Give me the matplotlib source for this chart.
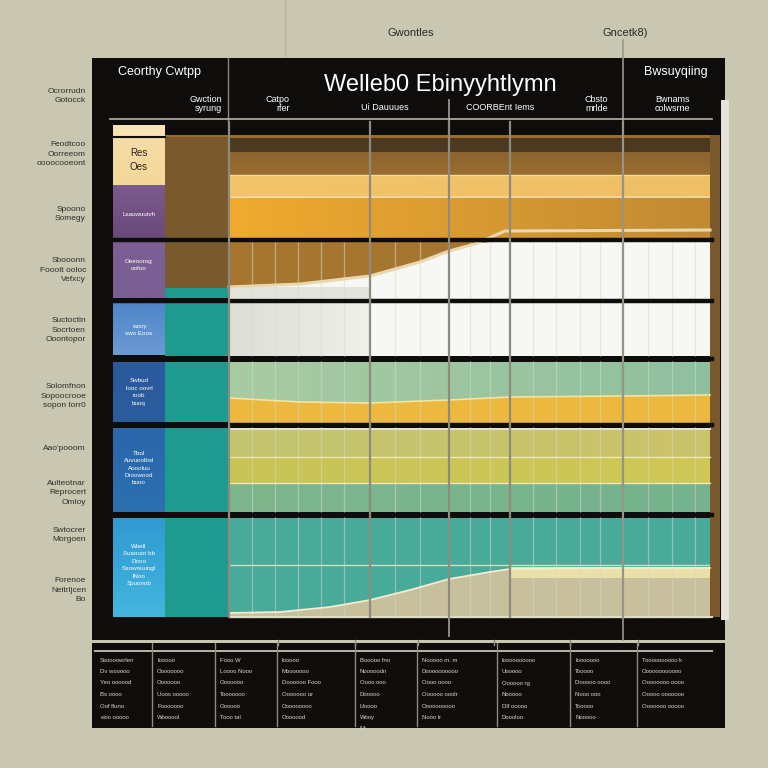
import matplotlib
matplotlib.use("Agg")
import matplotlib.pyplot as plt
from matplotlib.patches import Rectangle
import numpy as np

plt.rcParams['font.family'] = ['Liberation Sans', 'DejaVu Sans']

# ---- data ----
top_notes = ["Gwontles", "Gncetk8)"]
title = "Welleb0 Ebinyyhtlymn"
header_left = "Ceorthy Cwtpp"
header_right = "Bwsuyqiing"
sub_headers = ["Gwction\nsyrung", "Catpo\nrfer", "Ui Dauuues", "COORBEnt Iems",
               "Cbsto\nmrlde", "Bwnams\ncolwsrne"]

row_labels = ["Ocrorrudn\nGotocck", "Feodtcoo\nOorreeom\noooocooeont", "Spoono\nSomegy",
              "Sbooonn\nFooolt ooloc\nVefxcy", "Suctoctin\nSocrtoen\nOoontopor",
              "Solomfnon\nSopoocrooe\nsopon lorr0", "Aao'pooom",
              "Aulteotnar\nReprocert\nOmloy", "Swtocrer\nMorgoen",
              "Forenoe\nNeitrljcen\nBo"]
row_label_y = [96, 154, 214, 270, 330, 396, 448, 493, 535, 590]

cell_texts = ["Res\nOes", "Lsauwuutvh", "Oeeoorog\noofoo", "wooy\nswo Eoos",
              "Swbud\nlooc oovrl\nroob\nbuoq", "Tbol\nAuvuoolbsl\nAoooluu\nDroowood\nbuoo",
              "Wuell\nSuaouor bb\nDooo\nSeowouungl\nlNoo\nSpuonob"]

# curve in second band (white below)
curve1_x = [229, 300, 370, 420, 449, 475, 507, 560, 710]
curve1_y = [287, 284, 276, 262, 251, 244, 240, 240, 240]
# curve in last band (tan below)
curve2_x = [229, 280, 330, 370, 410, 449, 490, 510, 600, 710]
curve2_y = [613, 612, 607, 600, 590, 579, 572, 569, 568, 568]
# top edge of yellow band in fourth row
yellow_x = [229, 300, 370, 449, 510, 620, 710]
yellow_y = [398, 402, 403, 400, 397, 396, 395]

grid_x = [229, 370, 449, 510, 623]
fine_x = [252, 275, 298, 321, 344, 395, 420, 470, 490, 533, 556, 580, 600, 648, 672, 695]

table_cols = [95, 152, 215, 277, 355, 417, 497, 570, 637, 712]
table_text = [
    ["Ssoooowrlen", "Dv wooooo", "Yeo oooood", "Bs oooo", "Oof fluno", "woo ooooo"],
    ["Iooooo", "Oooooooo", "Ooooooo", "Uoos ooooo", "Fooooooo", "Woooool"],
    ["Fooo W", "Loooo Nooo", "Ooooooo", "Tooooooo", "Oooooo", "Tooo tal"],
    ["Iooooo", "Mooooooo", "Doooooo Fooo", "Ooooooo ur", "Ooooooooo", "Ooooood"],
    ["Booooo fno", "Nooooodn", "Oooo ooo", "Dooooo", "Lfoooo", "Wooy", "Mr"],
    ["Nooooo m. m", "Doooooooooo", "Oooo oooo", "Oooooo ooolr", "Oooooooooo", "Nooo lr"],
    ["Ioooooooooo", "Uooooo", "Oooooo rg", "Nooooo", "Dlf ooooo", "Doooloo"],
    ["Iooooooo", "Tooooo", "Dooooo oooo", "Nooo ooo", "Tooooo", "Nooooo"],
    ["Toooooooooo k", "Oooooooooooo", "Oooooooo oooo", "Ooooo ooooooo", "Ooooooo ooooo"],
]

# ---- drawing ----
BG = "#c9c6b1"
BLACK = "#0e0d0b"
fig = plt.figure(figsize=(7.68, 7.68), dpi=100, facecolor=BG)
ax = fig.add_axes([0, 0, 1, 1])
ax.set_xlim(0, 768)
ax.set_ylim(768, 0)
ax.axis("off")


def box(x0, y0, x1, y1, c, z=1, **kw):
    ax.add_patch(Rectangle((x0, y0), x1 - x0, y1 - y0, facecolor=c, edgecolor="none", zorder=z, **kw))


def grad(x0, y0, x1, y1, c0, c1, z=1.5, horiz=True):
    c0 = np.array(matplotlib.colors.to_rgb(c0))
    c1 = np.array(matplotlib.colors.to_rgb(c1))
    t = np.linspace(0, 1, 64)
    img = c0 + (c1 - c0) * t[:, None]
    img = img[None, :, :] if horiz else img[:, None, :]
    ax.imshow(img, extent=(x0, x1, y1, y0), aspect="auto", zorder=z, interpolation="bilinear")


# faint lines above the panel
ax.plot([285, 285], [0, 58], color="#b9b6a2", lw=1, zorder=1)
ax.plot([623, 623], [40, 640], color="#9a988a", lw=1.2, zorder=6)

# black panel + bottom table
box(92, 58, 725, 640, BLACK)
box(92, 643, 725, 728, BLACK)
box(721, 100, 729, 620, "#e4e2da", z=1.2)

# header
ax.text(160, 72, header_left, color="white", fontsize=9, ha="center", va="center", zorder=8)
ax.text(676, 72, header_right, color="white", fontsize=9, ha="center", va="center", zorder=8)
ax.text(440, 85, title, color="white", fontsize=17, ha="center", va="center", zorder=8)
sub_x = [222, 290, 385, 500, 608, 690]
sub_y = [104, 104, 108, 108, 104, 104]
sub_ha = ["right", "right", "center", "center", "right", "right"]
for s, x, y, h in zip(sub_headers, sub_x, sub_y, sub_ha):
    ax.text(x, y, s, color="white", fontsize=6.5, ha=h, va="center", zorder=8, linespacing=1.1)
ax.plot([228, 228], [58, 122], color="#8a877a", lw=1, zorder=7)
ax.plot([110, 712], [119, 119], color="#b5b2a5", lw=1.2, zorder=7)

# notes above
ax.text(411, 33, top_notes[0], color="#2a2a26", fontsize=8, ha="center", va="center")
ax.text(625, 33, top_notes[1], color="#2a2a26", fontsize=8, ha="center", va="center")

# left row labels
for s, y in zip(row_labels, row_label_y):
    ax.text(86, y, s, color="#2e2e2a", fontsize=6, ha="right", va="center", linespacing=1.5)

# ---- band A (stripes) ----
box(165, 135, 710, 238, "#9a6c2c")
box(165, 137, 229, 238, "#7a5a2c", z=1.6)
grad(229, 138, 710, 152, "#4a3820", "#4e3a22", horiz=False)
grad(229, 152, 710, 174, "#8c6430", "#9a6c30", horiz=False)
grad(229, 175, 710, 196, "#f3c469", "#eebf64")
grad(229, 197, 710, 238, "#f0aa2e", "#c18a34")
ax.plot([229, 710], [174.5, 174.5], color="#f6dba0", lw=1, zorder=2)
ax.plot([229, 710], [196.5, 196.5], color="#fae6b8", lw=1.2, zorder=2)

# ---- band B (curve) ----
box(165, 242, 710, 298, "#a67630")
box(165, 242, 229, 288, "#7a5a2c", z=1.6)
box(165, 288, 229, 298, "#1f9a8e", z=1.6)
ax.fill_between(curve1_x, curve1_y, 298, color="#f7f7f3", zorder=2)
box(229, 287, 370, 298, "#e3e5dc", z=2.1)
ax.plot(curve1_x[:6] + [505, 710], curve1_y[:6] + [231, 230], color="#e8d8b0", lw=2.2, zorder=3)

# ---- band C (white) ----
box(165, 303, 710, 356, "#f7f7f3")
box(165, 303, 229, 356, "#1f9a8e", z=1.6)
grad(229, 303, 370, 356, "#dcdfd5", "#eff0ea")

# ---- band D (green + yellow) ----
grad(229, 362, 710, 422, "#a9cba2", "#8fc09e")
box(165, 362, 229, 422, "#1f9a8e", z=1.6)
ax.fill_between(yellow_x, yellow_y, 422, color="#ecb93e", zorder=2)
ax.plot(yellow_x, yellow_y, color="#f5e3a0", lw=1.2, zorder=3)

# ---- band E (yellow green stripes) ----
box(165, 428, 229, 512, "#1f9a8e", z=1.6)
grad(229, 428, 710, 457, "#c3c56e", "#cbc36a")
grad(229, 457, 710, 483, "#c8c456", "#cfc857")
grad(229, 483, 710, 512, "#7fb68e", "#74b38c")
ax.plot([229, 710], [457, 457], color="#eee7b8", lw=1, zorder=3)
ax.plot([229, 710], [483, 483], color="#eee7b8", lw=1, zorder=3)
ax.plot([229, 710], [429, 429], color="#e3e3d0", lw=1.4, zorder=3)

# ---- band F (teal + curve) ----
box(165, 518, 710, 617, "#48aa98")
box(165, 518, 229, 617, "#1f9a8e", z=1.6)
ax.plot([229, 710], [565, 565], color="#cfe2c6", lw=1, zorder=2)
ax.fill_between(curve2_x, curve2_y, 617, color="#c8bf9c", zorder=2)
box(510, 567, 710, 578, "#ece0aa", z=2.2)
ax.plot(curve2_x, curve2_y, color="#f2ecd0", lw=1.3, zorder=3)
ax.plot([229, 712], [617, 617], color="#dedbc8", lw=1.4, zorder=3)

# right brown edge
box(710, 135, 720, 617, "#7a5a2c", z=2.5)

# category column
cat_spans = [(125, 185), (185, 238), (242, 298), (303, 355), (362, 422), (428, 512), (518, 617)]
cat_top = ["#f6ddaa", "#7b5a8c", "#7c5f96", "#4f86c8", "#2a5a9c", "#2a66aa", "#2f9ad2"]
cat_bot = ["#f4d898", "#6a4a7a", "#7a5f92", "#6c9ad4", "#2a5c9e", "#2c70b0", "#43b5de"]
for (y0, y1), c0, c1 in zip(cat_spans, cat_top, cat_bot):
    grad(113, y0, 165, y1, c0, c1, z=2.6, horiz=False)
box(113, 125, 165, 136, "#f7e3b4", z=2.7)
ax.plot([113, 165], [137, 137], color=BLACK, lw=1.5, zorder=2.8)
cell_y = [160, 214, 265, 330, 392, 468, 565]
for i, (s, y) in enumerate(zip(cell_texts, cell_y)):
    col = "#2a2220" if i == 0 else "white"
    fs = 7 if i == 0 else 4.5
    ax.text(139, y, s, color=col, fontsize=fs, ha="center", va="center", zorder=4, linespacing=1.6)

# black separators between bands
for y in [240, 300.5, 359, 425, 515]:
    ax.plot([110, 712], [y, y], color=BLACK, lw=3.2, zorder=4)

# vertical grid lines
for x in fine_x:
    ax.plot([x, x], [242, 617], color="#d8d8cf", lw=0.9, alpha=0.5, zorder=2.3)
for x in grid_x:
    ax.plot([x, x], [122, 617], color="#8d8a7e", lw=1.6, zorder=5)
ax.plot([449, 449], [100, 636], color="#8d8a7e", lw=1.4, zorder=5)

# bottom table
ax.plot([95, 712], [651, 651], color="#b9b6a8", lw=1.4, zorder=5)
for x in table_cols[1:-1]:
    ax.plot([x, x], [643, 726], color="#8d8a7e", lw=1, zorder=5)
for x in [278, 355, 418, 494, 570, 638]:
    ax.plot([x, x], [640, 645], color="#8d8a7e", lw=1, zorder=5)
for x0, lines in zip(table_cols[:-1], table_text):
    for j, s in enumerate(lines):
        ax.text(x0 + 5, 660 + j * 11.5, s, color="#d8d6cc", fontsize=4.3, ha="left", va="center", zorder=6)

fig.savefig("out.png", dpi=100, facecolor=BG)
